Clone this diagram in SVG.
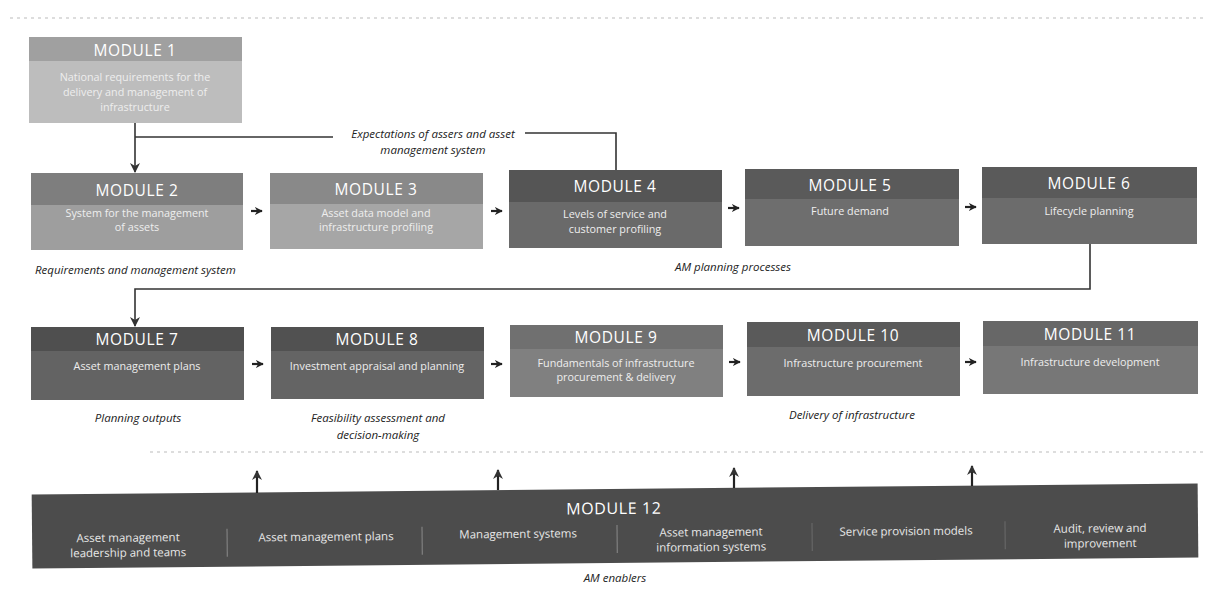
<svg xmlns="http://www.w3.org/2000/svg" width="1211" height="590" viewBox="0 0 1211 590">
<defs>
<style>
.hd{font-family:"Open Sans","Liberation Sans",sans-serif;font-size:15.5px;fill:#fff;text-anchor:middle;letter-spacing:0.6px}
.bd{font-family:"Open Sans","Liberation Sans",sans-serif;font-size:10.8px;fill:#eee;text-anchor:middle}
.bd12{font-family:"Open Sans","Liberation Sans",sans-serif;font-size:11.5px;fill:#e8e8e8;text-anchor:middle}
.lb{font-family:"Open Sans","Liberation Sans",sans-serif;font-size:11.5px;font-style:italic;fill:#222;text-anchor:middle}
.ln{fill:none;stroke:#333;stroke-width:1.6}
.ar{fill:none;stroke:#222;stroke-width:2.2}
.sep{stroke:#8a8a8a;stroke-width:1}
.dot{stroke:#bbb;stroke-width:1;stroke-dasharray:3 4}
</style>
<marker id="ah" viewBox="0 0 10 10" refX="9" refY="5" markerWidth="8" markerHeight="8" orient="auto" markerUnits="userSpaceOnUse">
<path d="M0,0 L10,5 L0,10 L3,5 Z" fill="#222"/>
</marker>
<marker id="ah2" viewBox="0 0 10 10" refX="9" refY="5" markerWidth="10" markerHeight="10" orient="auto" markerUnits="userSpaceOnUse">
<path d="M0,0 L10,5 L0,10 L3,5 Z" fill="#333"/>
</marker>
</defs>
<rect width="1211" height="590" fill="#fff"/>
<line class="dot" x1="10" y1="18" x2="1205" y2="18"/>
<line class="dot" x1="150" y1="452" x2="1205" y2="452"/>

<g id="m1"><rect x="29" y="37" width="213" height="86" fill="#bdbdbd"/><rect x="29" y="37" width="213" height="24" fill="#a0a0a0"/>
<text class="hd" x="135" y="56">MODULE 1</text>
<text class="bd" x="135" y="81">National requirements for the</text><text class="bd" x="135" y="96">delivery and management of</text><text class="bd" x="135" y="111">infrastructure</text></g>

<g id="m2"><rect x="31" y="173" width="212" height="77" fill="#9e9e9e"/><rect x="31" y="173" width="212" height="32" fill="#7e7e7e"/>
<text class="hd" x="137" y="196">MODULE 2</text>
<text class="bd" x="137" y="217">System for the management</text><text class="bd" x="137" y="231">of assets</text></g>

<g id="m3"><rect x="270" y="173" width="213" height="76" fill="#a6a6a6"/><rect x="270" y="173" width="213" height="31" fill="#898989"/>
<text class="hd" x="376" y="195">MODULE 3</text>
<text class="bd" x="376" y="217">Asset data model and</text><text class="bd" x="376" y="231">infrastructure profiling</text></g>

<g id="m4"><rect x="509" y="170" width="213" height="78" fill="#6a6a6a"/><rect x="509" y="170" width="213" height="32" fill="#555"/>
<text class="hd" x="615" y="192">MODULE 4</text>
<text class="bd" x="615" y="218">Levels of service and</text><text class="bd" x="615" y="233">customer profiling</text></g>

<g id="m5"><rect x="745" y="169" width="214" height="77" fill="#6e6e6e"/><rect x="745" y="169" width="214" height="30" fill="#5a5a5a"/>
<text class="hd" x="850" y="191">MODULE 5</text>
<text class="bd" x="850" y="215">Future demand</text></g>

<g id="m6"><rect x="982" y="167" width="215" height="77" fill="#6c6c6c"/><rect x="982" y="167" width="215" height="31" fill="#5a5a5a"/>
<text class="hd" x="1089" y="189">MODULE 6</text>
<text class="bd" x="1089" y="215">Lifecycle planning</text></g>

<g id="m7"><rect x="31" y="327" width="213" height="73" fill="#636363"/><rect x="31" y="327" width="213" height="24" fill="#4f4f4f"/>
<text class="hd" x="137" y="345">MODULE 7</text>
<text class="bd" x="137" y="370">Asset management plans</text></g>

<g id="m8"><rect x="271" y="327" width="213" height="72" fill="#646464"/><rect x="271" y="327" width="213" height="24" fill="#515151"/>
<text class="hd" x="377" y="345">MODULE 8</text>
<text class="bd" x="377" y="370">Investment appraisal and planning</text></g>

<g id="m9"><rect x="510" y="325" width="213" height="72" fill="#808080"/><rect x="510" y="325" width="213" height="24" fill="#707070"/>
<text class="hd" x="616" y="343">MODULE 9</text>
<text class="bd" x="616" y="367">Fundamentals of infrastructure</text><text class="bd" x="616" y="381">procurement &amp; delivery</text></g>

<g id="m10"><rect x="747" y="322" width="213" height="74" fill="#6c6c6c"/><rect x="747" y="322" width="213" height="25" fill="#5a5a5a"/>
<text class="hd" x="853" y="341">MODULE 10</text>
<text class="bd" x="853" y="367">Infrastructure procurement</text></g>

<g id="m11"><rect x="983" y="321" width="215" height="73" fill="#777"/><rect x="983" y="321" width="215" height="25" fill="#676767"/>
<text class="hd" x="1090" y="340">MODULE 11</text>
<text class="bd" x="1090" y="366">Infrastructure development</text></g>

<g id="m12" transform="rotate(-0.55 615 526)"><rect x="32" y="489" width="1166" height="74" fill="#4c4c4c"/>
<text class="hd" x="614" y="514" style="font-size:16px">MODULE 12</text>
<text class="bd12" x="128" y="537">Asset management</text><text class="bd12" x="128" y="552">leadership and teams</text>
<line class="sep" x1="227" y1="525" x2="227" y2="553"/>
<text class="bd12" x="326" y="538">Asset management plans</text>
<line class="sep" x1="422" y1="525" x2="422" y2="553"/>
<text class="bd12" x="518" y="537">Management systems</text>
<line class="sep" x1="617" y1="525" x2="617" y2="553"/>
<text class="bd12" x="711" y="537">Asset management</text><text class="bd12" x="711" y="552">information systems</text>
<line class="sep" x1="812" y1="525" x2="812" y2="553" opacity="0.5"/>
<text class="bd12" x="906" y="538">Service provision models</text>
<line class="sep" x1="1005" y1="525" x2="1005" y2="553" opacity="0.5"/>
<text class="bd12" x="1100" y="537">Audit, review and</text><text class="bd12" x="1100" y="552">improvement</text></g>

<g id="labels">
<text class="lb" x="433" y="138">Expectations of assers and asset</text>
<text class="lb" x="433" y="154">management system</text>
<text class="lb" x="35" y="274" style="text-anchor:start">Requirements and management system</text>
<text class="lb" x="733" y="271">AM planning processes</text>
<text class="lb" x="138" y="422">Planning outputs</text>
<text class="lb" x="378" y="422">Feasibility assessment and</text>
<text class="lb" x="378" y="439">decision-making</text>
<text class="lb" x="852" y="419">Delivery of infrastructure</text>
<text class="lb" x="615" y="582">AM enablers</text>
</g>

<g id="connectors">
<path class="ln" d="M135,123 V172" marker-end="url(#ah2)"/>
<path class="ln" d="M135,137 H333"/>
<path class="ln" d="M525,133 H616 V170"/>
<path class="ln" d="M1090,244 V289 H135 V326" marker-end="url(#ah2)"/>
<path class="ar" d="M251,211 H262" marker-end="url(#ah)"/>
<path class="ar" d="M491,211 H502" marker-end="url(#ah)"/>
<path class="ar" d="M728,208 H739" marker-end="url(#ah)"/>
<path class="ar" d="M965,207 H976" marker-end="url(#ah)"/>
<path class="ar" d="M252,364 H263" marker-end="url(#ah)"/>
<path class="ar" d="M491,364 H502" marker-end="url(#ah)"/>
<path class="ar" d="M729,362 H740" marker-end="url(#ah)"/>
<path class="ar" d="M965,362 H976" marker-end="url(#ah)"/>
<path class="ar" d="M257,493 V471" marker-end="url(#ah2)"/>
<path class="ar" d="M498,490 V470" marker-end="url(#ah2)"/>
<path class="ar" d="M734,488 V468" marker-end="url(#ah2)"/>
<path class="ar" d="M972,486 V466" marker-end="url(#ah2)"/>
</g>
</svg>
